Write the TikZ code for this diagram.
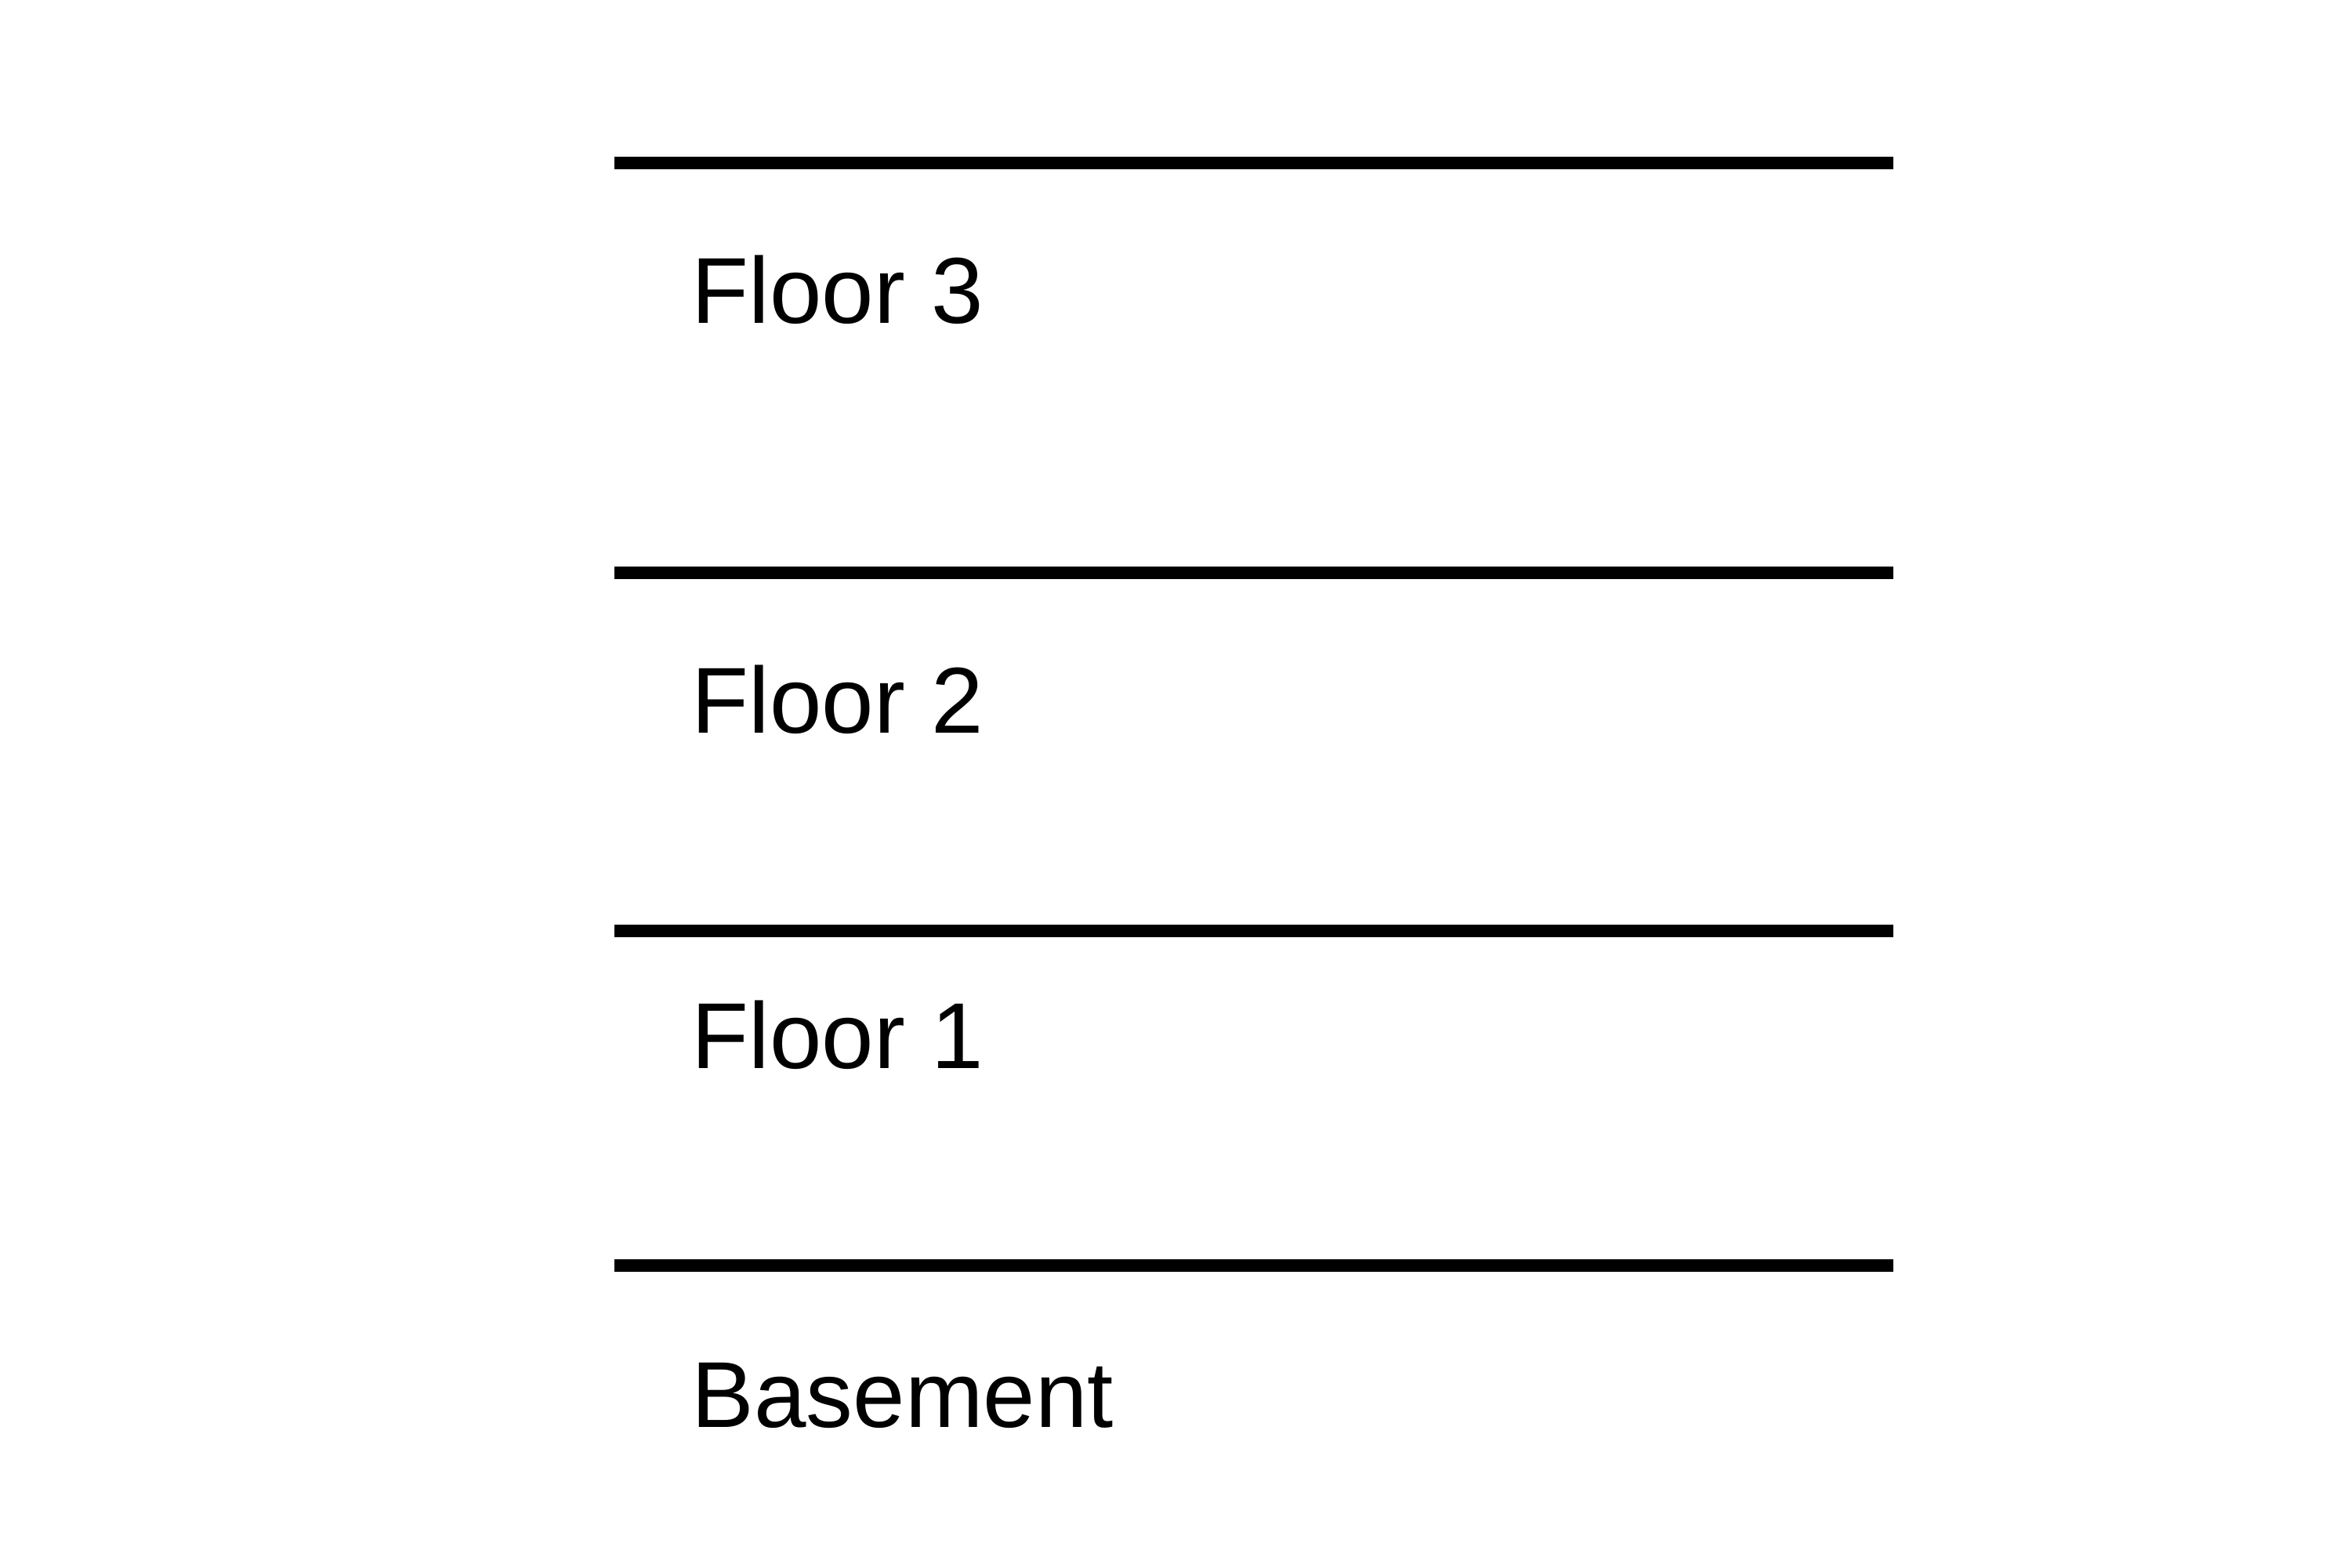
\documentclass[tikz,border=0pt]{standalone}
\usepackage{fontspec}
\setmainfont{Liberation Sans}

\begin{document}
\begin{tikzpicture}

\useasboundingbox (0,0) rectangle (30,20);

\tikzset{floorline/.style={line width=4.6pt},
         floorlabel/.style={anchor=base west,inner sep=0pt,font=\fontsize{34}{40}\selectfont}}

\draw[floorline] (7.84,17.92) -- (24.16,17.92);
\draw[floorline] (7.84,12.69) -- (24.16,12.69);
\draw[floorline] (7.84,8.12) -- (24.16,8.12);
\draw[floorline] (7.84,3.85) -- (24.16,3.85);

\node[floorlabel] (floor3) at (8.82,15.87) {Floor 3};
\node[floorlabel] (floor2) at (8.82,10.64) {Floor 2};
\node[floorlabel] (floor1) at (8.82,6.37) {Floor 1};
\node[floorlabel] (basement) at (8.82,1.79) {Basement};

\end{tikzpicture}
\end{document}
